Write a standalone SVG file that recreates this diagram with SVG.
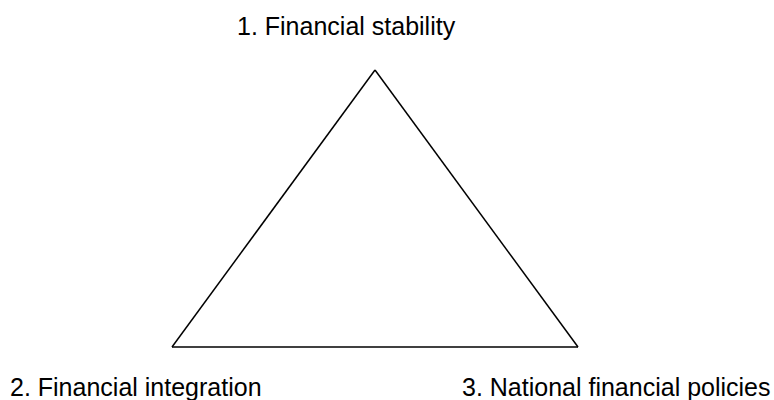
<svg xmlns="http://www.w3.org/2000/svg" width="774" height="400" viewBox="0 0 774 400">
<style>
.lbl{font-family:"Liberation Sans",Arial,sans-serif;font-size:25px;fill:#000}
.edge{fill:none;stroke:#000;stroke-width:1.5}
</style>
<rect width="774" height="400" fill="#fff"/>
<g id="connectors">
<line class="edge" x1="375" y1="70" x2="172" y2="347"/>
<line class="edge" x1="375" y1="70" x2="578" y2="347"/>
<line class="edge" x1="172" y1="347" x2="578" y2="347"/>
</g>
<g id="node1"><text class="lbl" x="237" y="35">1. Financial stability</text></g>
<g id="node2"><text class="lbl" x="10" y="396">2. Financial integration</text></g>
<g id="node3"><text class="lbl" x="462" y="396">3. National financial policies</text></g>
</svg>
